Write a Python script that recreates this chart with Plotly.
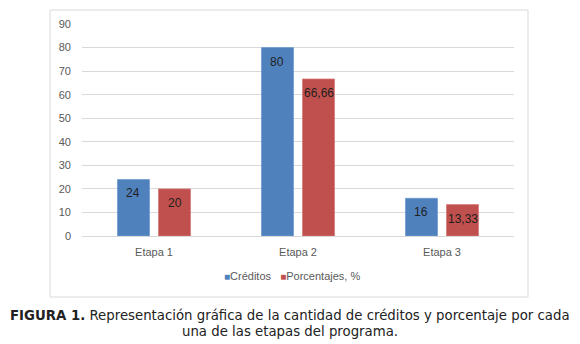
import plotly.graph_objects as go

categories = ["Etapa 1", "Etapa 2", "Etapa 3"]
creditos = [24, 80, 16]
porcentajes = [20, 66.66, 13.33]
creditos_labels = ["24", "80", "16"]
porcentajes_labels = ["20", "66,66", "13,33"]
y_ticks = [0, 10, 20, 30, 40, 50, 60, 70, 80, 90]

FONT = "Liberation Sans"
BLUE = "#4f81bd"
RED = "#c0504d"

fig = go.Figure()
fig.add_trace(go.Bar(
    x=categories, y=creditos, name="Créditos", offsetgroup="a",
    marker=dict(color=BLUE, line=dict(color="#6f9bd1", width=0.75)),
))
fig.add_trace(go.Bar(
    x=categories, y=porcentajes, name="Porcentajes, %", offsetgroup="b",
    marker=dict(color=RED, line=dict(color="#d67a78", width=0.75)),
))

W, H = 580, 344
L, R, T, B = 82, 66, 24, 108
pw, ph = W - L - R, H - T - B

def px_x(x):
    return (x - L) / pw

def px_y(y):
    return (H - B - y) / ph

BARGAP, GROUPGAP = 0.43, 0.22
fig.update_layout(
    width=W, height=H,
    margin=dict(l=L, r=R, t=T, b=B, pad=0),
    paper_bgcolor="white", plot_bgcolor="white",
    barmode="group", bargap=BARGAP, bargroupgap=GROUPGAP,
    font=dict(family=FONT, size=11, color="#595959"),
    showlegend=False,
)
fig.update_xaxes(showgrid=False, showline=False, ticks="", tickfont=dict(size=11, color="#595959"),
                 ticklabelstandoff=8)
fig.update_yaxes(range=[0, 90], tickvals=y_ticks, showgrid=True, gridcolor="#d9d9d9", gridwidth=1,
                 zeroline=True, zerolinecolor="#d9d9d9", zerolinewidth=1,
                 showline=False, ticks="", ticklabelstandoff=10,
                 tickfont=dict(size=11, color="#595959"))

# data labels inside the end of each bar
slot = (1 - BARGAP) / 2
for i, cat in enumerate(categories):
    for j, (vals, labs) in enumerate(((creditos, creditos_labels), (porcentajes, porcentajes_labels))):
        xoff = (j - 0.5) * slot
        fig.add_annotation(x=i + xoff, y=vals[i], xref="x", yref="y",
                           text=labs[i], showarrow=False, yanchor="middle", yshift=-14,
                           font=dict(family=FONT, size=12, color="#1f1f1f"))

fig.add_shape(type="rect", xref="paper", yref="paper",
              x0=px_x(50), x1=px_x(528), y0=px_y(297), y1=px_y(10),
              line=dict(color="#d9d9d9", width=1), fillcolor="rgba(0,0,0,0)", layer="below")

# legend
fig.add_annotation(xref="paper", yref="paper", x=px_x(292), y=px_y(276),
                   xanchor="center", yanchor="middle", showarrow=False,
                   text=(f"<span style='color:{BLUE};font-size:10px'>■</span>Créditos   "
                         f"<span style='color:{RED};font-size:10px'>■</span>Porcentajes, %"),
                   font=dict(family=FONT, size=11, color="#595959"))

caption_lines = [
    "<b>FIGURA 1.</b> Representación gráfica de la cantidad de créditos y porcentaje por cada",
    "una de las etapas del programa.",
]
for k, (line, yy) in enumerate(zip(caption_lines, (315, 331))):
    fig.add_annotation(xref="paper", yref="paper", x=px_x(290), y=px_y(yy),
                       xanchor="center", yanchor="middle", showarrow=False, align="center",
                       text=line,
                       font=dict(family="DejaVu Sans", size=13.3, color="#222222"))

fig.write_html("out.html")
